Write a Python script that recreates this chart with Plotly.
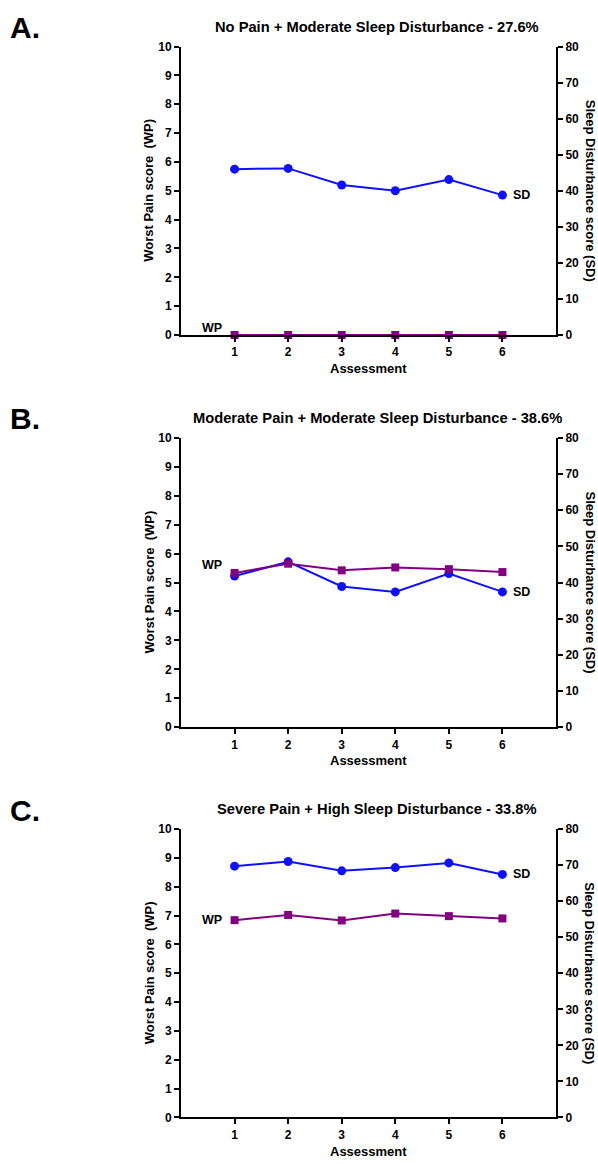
import plotly.graph_objects as go

assessments = [1, 2, 3, 4, 5, 6]

panel_letters = ["A.", "B.", "C."]
panel_titles = [
    "No Pain + Moderate Sleep Disturbance - 27.6%",
    "Moderate Pain + Moderate Sleep Disturbance - 38.6%",
    "Severe Pain + High Sleep Disturbance - 33.8%",
]

# Worst Pain (left axis, 0-10)
wp_a = [0, 0, 0, 0, 0, 0]
wp_b = [5.33, 5.65, 5.42, 5.52, 5.46, 5.36]
wp_c = [6.84, 7.02, 6.83, 7.07, 6.98, 6.90]

# Sleep Disturbance (right axis, 0-80)
sd_a = [46.0, 46.2, 41.6, 40.0, 43.1, 38.8]
sd_b = [41.8, 45.7, 38.9, 37.4, 42.5, 37.4]
sd_c = [69.7, 71.0, 68.4, 69.3, 70.6, 67.4]

wp_series = [wp_a, wp_b, wp_c]
sd_series = [sd_a, sd_b, sd_c]

wp_ticks = list(range(0, 11))
sd_ticks = list(range(0, 81, 10))

W, H = 598, 1165
FONT = "Liberation Sans, Arial, sans-serif"
BLUE = "#1010FF"
PURPLE = "#800080"

x_left, x_right = 181, 556
panel_px = [(40, 332), (436, 729), (832, 1124)]  # (top, bottom) in pixels
wp_label_shift = [7, 8, 0]

fig = go.Figure()
annotations = []


def ann(**kw):
    base = dict(showarrow=False, xanchor="center", yanchor="middle")
    base.update(kw)
    annotations.append(base)


for i in range(3):
    xa = "x" if i == 0 else f"x{i+1}"
    ybase = f"y{2*i+1}" if i > 0 else "y"
    yover = f"y{2*i+2}"
    top, bot = panel_px[i]
    dom_y = [1 - bot / H, 1 - top / H]
    dom_x = [x_left / W, x_right / W]

    # SD on base axis (right side), WP on overlaying axis (left side, drawn on top)
    fig.add_trace(go.Scatter(
        x=assessments, y=sd_series[i], xaxis=xa, yaxis=ybase,
        mode="lines+markers", line=dict(color=BLUE, width=2),
        marker=dict(symbol="circle", size=9, color=BLUE),
        showlegend=False, cliponaxis=False))
    fig.add_trace(go.Scatter(
        x=assessments, y=wp_series[i], xaxis=xa, yaxis=yover,
        mode="lines+markers", line=dict(color=PURPLE, width=2),
        marker=dict(symbol="square", size=8, color=PURPLE),
        showlegend=False, cliponaxis=False))

    xkey = "xaxis" if i == 0 else f"xaxis{i+1}"
    ybkey = "yaxis" if i == 0 else f"yaxis{2*i+1}"
    yokey = f"yaxis{2*i+2}"
    tickfont = dict(family=FONT, size=12, color="black", weight="bold")
    axis_common = dict(showline=True, linecolor="black", linewidth=2,
                       ticks="outside", ticklen=5, tickwidth=2, tickcolor="black",
                       showgrid=False, zeroline=False, tickfont=tickfont)
    fig.update_layout(**{
        xkey: dict(domain=dom_x, anchor=ybase, range=[0, 7],
                   tickmode="array", tickvals=assessments,
                   ticktext=[str(a) for a in assessments], **axis_common),
        ybkey: dict(domain=dom_y, anchor=xa, side="right", range=[0, 80],
                    tickmode="array", tickvals=sd_ticks, **axis_common),
        yokey: dict(overlaying=ybase, anchor=xa, side="left", range=[0, 10],
                    tickmode="array", tickvals=wp_ticks, **axis_common),
    })

    mid_y = 1 - (top + bot) / 2 / H
    mid_x = (x_left + x_right) / 2 / W
    f13 = dict(family=FONT, size=13, color="black")
    f12 = dict(family=FONT, size=12.5, color="black")
    # Axis titles
    ann(text="<b>Worst Pain score&nbsp; (WP)</b>", xref="paper", yref="paper",
        x=149 / W, y=mid_y, textangle=-90, font=f13)
    ann(text="<b>Sleep Disturbance score (SD)</b>", xref="paper", yref="paper",
        x=590 / W, y=mid_y, textangle=90, font=f13)
    ann(text="<b>Assessment</b>", xref="paper", yref="paper",
        x=mid_x, y=1 - (bot + 34) / H, font=f13)
    # Panel title and letter
    ann(text="<b>" + panel_titles[i] + "</b>", xref="paper", yref="paper",
        x=377 / W, y=1 - (top - 20) / H, font=dict(family=FONT, size=14.7, color="black"))
    ann(text="<b>" + panel_letters[i] + "</b>", xref="paper", yref="paper",
        x=8 / W, y=1 - (top - 19) / H, xanchor="left",
        font=dict(family=FONT, size=30, color="black"))
    # Series labels
    ann(text="<b>SD</b>", xref=xa, yref=ybase,
        x=assessments[-1], y=sd_series[i][-1], xanchor="left", xshift=9, font=f12)
    ann(text="<b>WP</b>", xref=xa, yref=yover,
        x=assessments[0], y=wp_series[i][0], xanchor="right",
        xshift=-11, yshift=wp_label_shift[i], font=f12)

fig.update_layout(
    width=W, height=H,
    margin=dict(l=0, r=0, t=0, b=0),
    paper_bgcolor="white", plot_bgcolor="white",
    annotations=annotations,
    showlegend=False,
)

fig.write_html("out.html", config={"displayModeBar": False},
               post_script="document.body.style.margin='0';document.body.style.padding='0';")
